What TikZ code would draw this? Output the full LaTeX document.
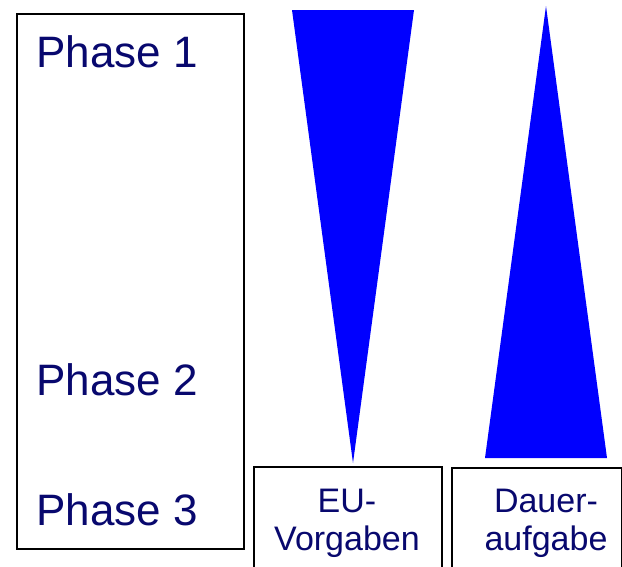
\documentclass[tikz,border=0pt]{standalone}
\usepackage{fontspec}
\setmainfont{Liberation Sans}
\usetikzlibrary{positioning}
\definecolor{phasenavy}{RGB}{8,8,110}
\definecolor{keilblau}{RGB}{0,0,255}

\begin{document}
\begin{tikzpicture}[x=1pt,y=-1pt,
    phase/.style={anchor=base west, inner sep=0pt, text=phasenavy, font=\fontsize{44}{50}\selectfont},
    kasten/.style={draw, line width=1.6pt, anchor=north west, inner sep=0pt},
    kastentext/.style={anchor=base, inner sep=0pt, align=center, text=phasenavy, font=\fontsize{34}{38}\selectfont}]
        \clip (0,0) rectangle (622,566);
        \fill[white] (0,0) rectangle (622,566);
        % Phasen
        \node[kasten, minimum width=227pt, minimum height=535pt] (phasen) at (16,13) {};
        \node[phase] (p1) at (36,67) {Phase 1};
        \node[phase] (p2) at (36,395) {Phase 2};
        \node[phase] (p3) at (36,525) {Phase 3};
        % Keile
        \fill[keilblau] (292,10) -- (414,10) -- (353,463) -- cycle;
        \fill[keilblau] (546,6) -- (607,458) -- (485,458) -- cycle;
        % Kaesten unten
        \node[kasten, minimum width=188pt, minimum height=120pt] (eu) at (253,466) {};
        \node[kasten, minimum width=170pt, minimum height=120pt] (dauer) at (451,467) {};
        \node[kastentext] (eutext) at (347,550) {EU-\\Vorgaben};
        \node[kastentext] (dauertext) at (546,550) {Dauer-\\aufgabe};
    \end{tikzpicture}
\end{document}
